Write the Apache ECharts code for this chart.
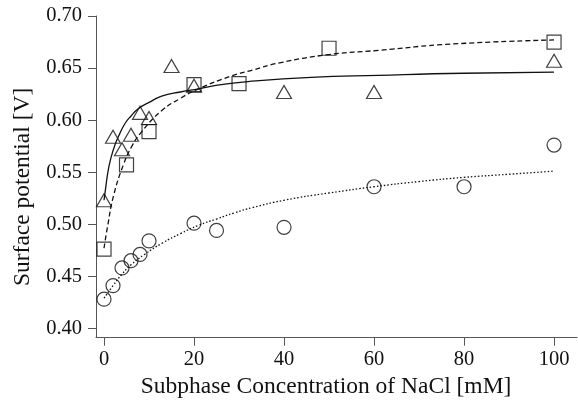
<!DOCTYPE html>
<html>
<head>
<meta charset="utf-8">
<script src="https://cdn.jsdelivr.net/npm/echarts@6/dist/echarts.min.js"></script>
<style>
html,body{margin:0;padding:0;background:#fff;}
#c{width:578px;height:403px;}
</style>
</head>
<body>
<div id="c"></div>
<script>
// ---- data ----
const xTicks = [0, 20, 40, 60, 80, 100];
const yTicks = [0.40, 0.45, 0.50, 0.55, 0.60, 0.65, 0.70];

// triangles (solid fit)
const triX = [0, 2, 4, 6, 8, 10, 15, 20, 40, 60, 100];
const triY = [0.523, 0.584, 0.572, 0.586, 0.607, 0.602, 0.652, 0.633, 0.627, 0.627, 0.657];

// squares (dashed fit)
const sqX = [0, 5, 10, 20, 30, 50, 100];
const sqY = [0.476, 0.557, 0.589, 0.634, 0.635, 0.669, 0.675];

// circles (dotted fit)
const cirX = [0, 2, 4, 6, 8, 10, 20, 25, 40, 60, 80, 100];
const cirY = [0.428, 0.441, 0.458, 0.465, 0.471, 0.484, 0.501, 0.494, 0.497, 0.536, 0.536, 0.576];

// fitted curves, points
const solidX = [0, 0.25, 0.9, 1.5, 2.5, 3.5, 4.7, 6, 7.6, 10, 12.8, 17, 21, 26, 32, 46, 61, 80, 100];
const solidY = [0.523, 0.531, 0.551, 0.563, 0.577, 0.587, 0.597, 0.604, 0.611, 0.617, 0.623, 0.627, 0.630, 0.634, 0.637, 0.641, 0.643, 0.645, 0.646];

const dashX = [0, 0.8, 2.1, 4.3, 6.2, 8.4, 12.8, 17, 21, 28, 33, 39, 50, 61, 77, 100];
const dashY = [0.477, 0.498, 0.527, 0.557, 0.575, 0.589, 0.609, 0.621, 0.630, 0.642, 0.648, 0.655, 0.663, 0.667, 0.673, 0.677];

const dotX = [0, 2, 4, 6, 9, 13, 17, 21, 25, 29, 33, 40, 50, 60, 70, 80, 90, 100];
const dotY = [0.429, 0.441, 0.452, 0.461, 0.471, 0.482, 0.491, 0.499, 0.505, 0.511, 0.516, 0.523, 0.530, 0.536, 0.541, 0.545, 0.548, 0.551];

const xName = 'Subphase Concentration of NaCl [mM]';
const yName = 'Surface potential [V]';

// ---- chart ----
const zip = (xs, ys) => xs.map((x, i) => [x, ys[i]]);
const FONT = "'Liberation Serif', 'Times New Roman', serif";
const AXIS_COLOR = '#555';
const TEXT_COLOR = '#111';

const chart = echarts.init(document.getElementById('c'), null, {renderer: 'canvas'});

const markerStyle = {color: 'rgba(0,0,0,0)', borderColor: '#111', borderWidth: 1.2};
const lineBase = {type: 'line', smooth: true, showSymbol: false, symbol: 'none', silent: true, z: 3};

chart.setOption({
  animation: false,
  backgroundColor: '#fff',
  grid: {left: 96, right: 1, top: 16, bottom: 65.3, containLabel: false, outerBoundsMode: 'none'},
  xAxis: {
    type: 'value',
    min: -1.78, max: 105.1,
    name: xName,
    nameLocation: 'middle',
    nameGap: 36,
    nameTextStyle: {fontFamily: FONT, fontSize: 23.5, color: TEXT_COLOR, padding: [0, 21, 0, 0]},
    axisLine: {show: true, onZero: false, lineStyle: {color: AXIS_COLOR, width: 1}},
    axisTick: {show: true, length: 8, customValues: xTicks, lineStyle: {color: AXIS_COLOR, width: 1}},
    axisLabel: {customValues: xTicks, margin: 11, fontFamily: FONT, fontSize: 20.5, color: TEXT_COLOR},
    splitLine: {show: false}
  },
  yAxis: {
    type: 'value',
    min: 0.391, max: 0.70,
    name: yName,
    nameLocation: 'middle',
    nameGap: 60,
    nameRotate: 90,
    nameTextStyle: {fontFamily: FONT, fontSize: 23.5, color: TEXT_COLOR, padding: [0, 20, 0, 0]},
    axisLine: {show: true, onZero: false, lineStyle: {color: AXIS_COLOR, width: 1}},
    axisTick: {show: true, length: 8, customValues: yTicks, lineStyle: {color: AXIS_COLOR, width: 1}},
    axisLabel: {customValues: yTicks, margin: 14, fontFamily: FONT, fontSize: 20.5, color: TEXT_COLOR,
      formatter: v => Number(v).toFixed(2)},
    splitLine: {show: false}
  },
  series: [
    Object.assign({}, lineBase, {name: 'solid fit', data: zip(solidX, solidY),
      lineStyle: {color: '#111', width: 1.3, type: 'solid'}}),
    Object.assign({}, lineBase, {name: 'dashed fit', data: zip(dashX, dashY),
      lineStyle: {color: '#111', width: 1.3, type: [5, 3]}}),
    Object.assign({}, lineBase, {name: 'dotted fit', data: zip(dotX, dotY),
      lineStyle: {color: '#111', width: 1.3, type: [1.5, 2]}}),
    {type: 'scatter', name: 'triangles', data: zip(triX, triY), symbol: 'triangle', symbolSize: [15, 13],
      itemStyle: markerStyle, z: 4},
    {type: 'scatter', name: 'squares', data: zip(sqX, sqY), symbol: 'rect', symbolSize: 14,
      itemStyle: markerStyle, z: 4},
    {type: 'scatter', name: 'circles', data: zip(cirX, cirY), symbol: 'circle', symbolSize: 14,
      itemStyle: markerStyle, z: 4}
  ]
});
</script>
</body>
</html>
